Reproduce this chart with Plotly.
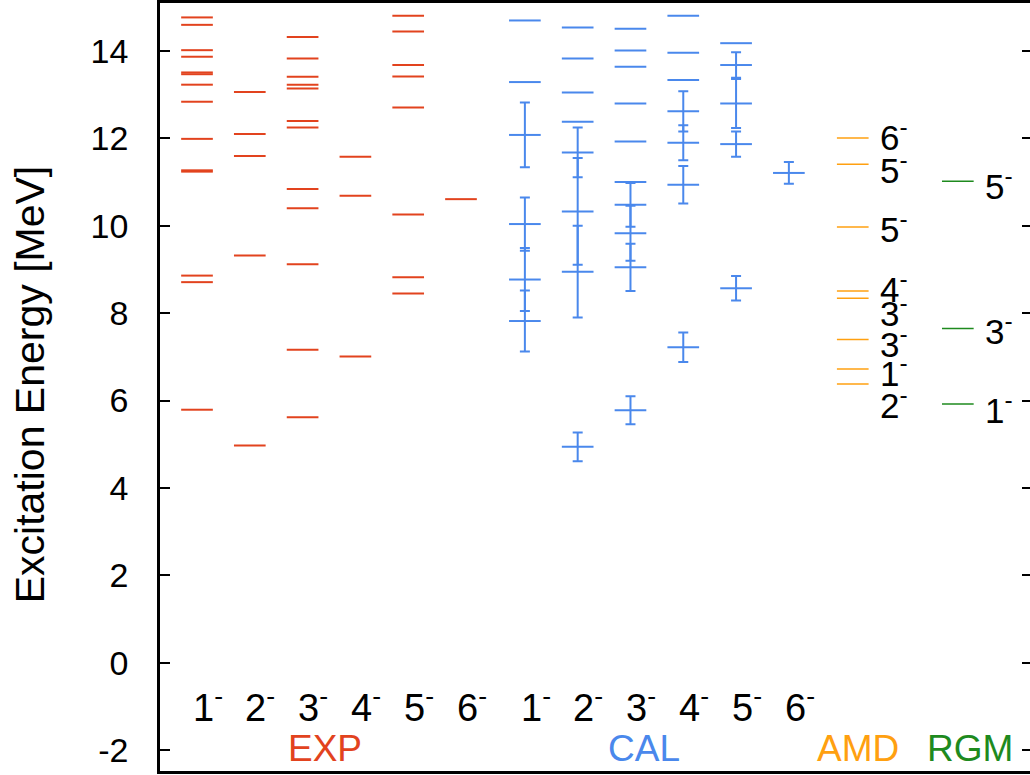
import plotly.graph_objects as go

# ---------------- data ----------------
spins = ["1", "2", "3", "4", "5", "6"]

exp_levels = {
    "1": [5.79, 8.71, 8.86, 11.24, 11.27, 11.99, 12.84, 13.23, 13.47, 13.51, 13.87, 14.02, 14.60, 14.77],
    "2": [4.97, 9.32, 11.60, 12.10, 13.06],
    "3": [5.62, 7.16, 9.12, 10.40, 10.84, 12.25, 12.40, 13.14, 13.23, 13.41, 13.83, 14.32],
    "4": [7.01, 10.69, 11.58],
    "5": [8.45, 8.82, 10.26, 12.71, 13.42, 13.68, 14.45, 14.81],
    "6": [10.61],
}

cal_bound = {
    "1": [13.29, 14.70],
    "2": [12.38, 13.05, 13.83, 14.54],
    "3": [11.00, 11.93, 12.80, 13.64, 14.01, 14.51],
    "4": [13.34, 13.96, 14.81],
    "5": [14.18],
    "6": [],
}

cal_res_energy = {
    "1": [7.82, 8.77, 10.04, 12.08],
    "2": [4.94, 8.95, 10.33, 11.68],
    "3": [5.78, 9.05, 9.83, 10.48],
    "4": [7.22, 10.94, 11.90, 12.62],
    "5": [8.57, 11.87, 12.80, 13.68],
    "6": [11.21],
}
cal_res_width = {
    "1": [0.70, 0.72, 0.61, 0.74],
    "2": [0.33, 1.05, 1.22, 0.57],
    "3": [0.32, 0.54, 0.63, 0.50],
    "4": [0.34, 0.43, 0.40, 0.46],
    "5": [0.28, 0.29, 0.56, 0.29],
    "6": [0.25],
}

amd_energy = [12.01, 11.41, 9.97, 8.51, 8.34, 7.40, 6.72, 6.38]
amd_spin = ["6", "5", "5", "4", "3", "3", "1", "2"]

rgm_energy = [11.02, 7.65, 5.92]
rgm_spin = ["5", "3", "1"]

group_names = ["EXP", "CAL", "AMD", "RGM"]

y_tickvals = [-2, 0, 2, 4, 6, 8, 10, 12, 14]
y_ticktext = ["-2", "0", "2", "4", "6", "8", "10", "12", "14"]

# ---------------- style / layout ----------------
C_EXP = "#e2431e"
C_CAL = "#4a88ec"
C_AMD = "#ffa010"
C_RGM = "#1e8a1e"
FONT = "Liberation Sans, Arial, sans-serif"

exp_x = {s: 1 + i for i, s in enumerate(spins)}
cal_x = {s: 7.21 + i for i, s in enumerate(spins)}
amd_x = 13.42
rgm_x = 15.41
hw = 0.30

# label placements (to avoid overlaps)
amd_label_y = [12.07, 11.32, 9.98, 8.61, 8.04, 7.35, 6.67, 5.94]
rgm_label_y = [10.96, 7.63, 5.84]


def seg(xc, ys):
    xs, yy = [], []
    for e in ys:
        xs += [xc - hw, xc + hw, None]
        yy += [e, e, None]
    return xs, yy


fig = go.Figure()

# EXP
ex, ey = [], []
for s in spins:
    a, b = seg(exp_x[s], exp_levels[s])
    ex += a
    ey += b
fig.add_trace(go.Scatter(x=ex, y=ey, mode="lines", line=dict(color=C_EXP, width=2),
                         hoverinfo="skip", showlegend=False))

# CAL levels
cx, cy = [], []
for s in spins:
    a, b = seg(cal_x[s], cal_bound[s] + cal_res_energy[s])
    cx += a
    cy += b
fig.add_trace(go.Scatter(x=cx, y=cy, mode="lines", line=dict(color=C_CAL, width=2),
                         hoverinfo="skip", showlegend=False))

# CAL widths (error bars)
rx, ry, rw = [], [], []
for s in spins:
    for e, w in zip(cal_res_energy[s], cal_res_width[s]):
        rx.append(cal_x[s])
        ry.append(e)
        rw.append(w)
fig.add_trace(go.Scatter(x=rx, y=ry, mode="markers",
                         marker=dict(size=1, color="rgba(0,0,0,0)"),
                         error_y=dict(type="data", array=rw, visible=True, color=C_CAL,
                                      thickness=2, width=5),
                         hoverinfo="skip", showlegend=False))

# AMD
a, b = seg(amd_x, amd_energy)
fig.add_trace(go.Scatter(x=a, y=b, mode="lines", line=dict(color=C_AMD, width=1.5),
                         hoverinfo="skip", showlegend=False))
# RGM
a, b = seg(rgm_x, rgm_energy)
fig.add_trace(go.Scatter(x=a, y=b, mode="lines", line=dict(color=C_RGM, width=1.5),
                         hoverinfo="skip", showlegend=False))

# dummy trace for right-side ticks
fig.add_trace(go.Scatter(x=[None], y=[None], yaxis="y2", showlegend=False, hoverinfo="skip"))

ann = []
bot_font = dict(family=FONT, size=38, color="black")
lab_font = dict(family=FONT, size=35, color="black")
for s in spins:
    for xc in (exp_x[s], cal_x[s]):
        ann.append(dict(x=xc - 0.12, y=-0.98, xref="x", yref="y", text=f"{s}<sup>-</sup>",
                        showarrow=False, xanchor="left", yanchor="middle", font=bot_font))
for e, s, ly in zip(amd_energy, amd_spin, amd_label_y):
    ann.append(dict(x=13.9, y=ly, xref="x", yref="y", text=f"{s}<sup>-</sup>",
                    showarrow=False, xanchor="left", yanchor="middle", font=lab_font))
for e, s, ly in zip(rgm_energy, rgm_spin, rgm_label_y):
    ann.append(dict(x=15.88, y=ly, xref="x", yref="y", text=f"{s}<sup>-</sup>",
                    showarrow=False, xanchor="left", yanchor="middle", font=lab_font))

for name, gx, col in zip(group_names, [3.42, 9.47, 13.52, 15.64], [C_EXP, C_CAL, C_AMD, C_RGM]):
    ann.append(dict(x=gx, y=-1.96, xref="x", yref="y", text=name, showarrow=False,
                    xanchor="center", yanchor="middle",
                    font=dict(family=FONT, size=37, color=col)))

ann.append(dict(x=-0.149, y=0.504, xref="paper", yref="paper", text="Excitation Energy [MeV]",
                textangle=-90, showarrow=False, xanchor="center", yanchor="middle",
                font=dict(family=FONT, size=41, color="black")))

yrange = [-2.48, 15.10]
fig.update_layout(
    width=1030, height=775,
    margin=dict(l=160, r=0, t=1, b=4),
    paper_bgcolor="white", plot_bgcolor="white",
    showlegend=False,
    annotations=ann,
    xaxis=dict(range=[0.2992, 16.777], showgrid=False, zeroline=False, showticklabels=False,
               ticks="", showline=True, mirror=True, linecolor="black", linewidth=2.5),
    yaxis=dict(range=yrange, tickvals=y_tickvals, ticktext=y_ticktext, showgrid=False,
               zeroline=False, ticks="inside", ticklen=10, tickwidth=2, tickcolor="black",
               showline=True, linecolor="black", linewidth=2.5,
               ticklabelstandoff=22,
               tickfont=dict(family=FONT, size=34, color="black")),
    yaxis2=dict(range=yrange, overlaying="y", side="right", tickvals=y_tickvals,
                showgrid=False, zeroline=False, ticks="inside", ticklen=8, tickwidth=1.5,
                tickcolor="black", showticklabels=False, showline=False),
)

fig.write_html("out.html")
